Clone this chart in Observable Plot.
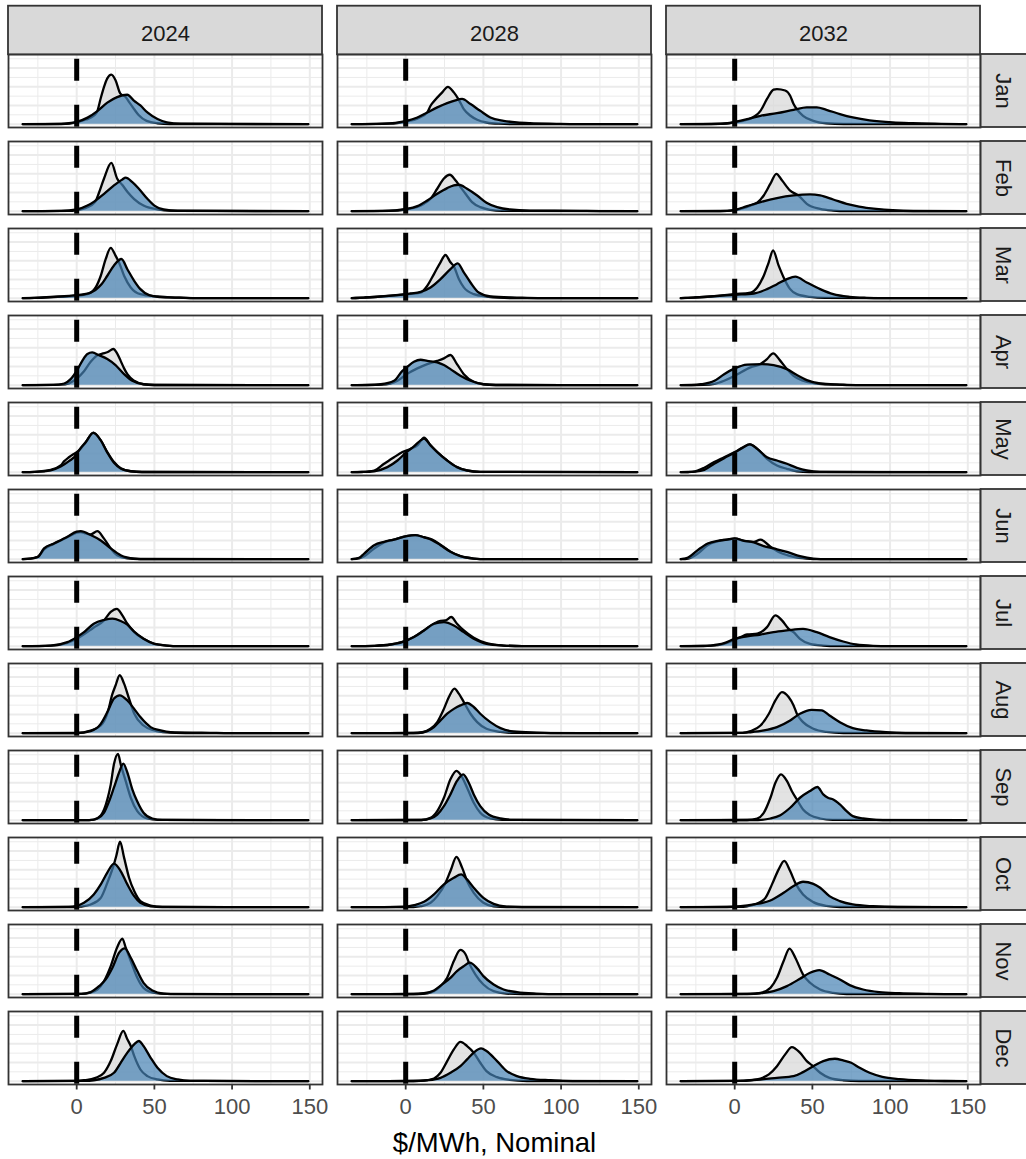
<!DOCTYPE html>
<html>
<head>
<meta charset="utf-8">
<script src="https://cdn.jsdelivr.net/npm/d3@7"></script>
<script src="https://cdn.jsdelivr.net/npm/@observablehq/plot@0.6"></script>
<style>
  html, body { margin: 0; padding: 0; background: #ffffff; }
  #wrap { position: relative; width: 1026px; height: 1159px; overflow: hidden; background: #ffffff; }
  #wrap svg { display: block; }
  #xtitle { position: absolute; left: 7.7px; width: 973.6px; top: 1129px; text-align: center;
            font-family: "Liberation Sans", Arial, sans-serif; font-size: 27.5px; line-height: 27.5px; color: #000; }
</style>
</head>
<body>
<div id="wrap"><div id="chart"></div><div id="xtitle">$/MWh, Nominal</div></div>
<script>
// ---------- data (density values in units of 0.01 per $/MWh) ----------
const years = [2024, 2028, 2032];
const months = ["Jan", "Feb", "Mar", "Apr", "May", "Jun", "Jul", "Aug", "Sep", "Oct", "Nov", "Dec"];
const xRange = [-34.7, 149];
const xMajorTicks = [0, 50, 100, 150];
const xMinorTicks = [-25, 25, 75, 125];
const yMajorTicks = [0, 2, 4, 6];
const yMinorTicks = [1, 3, 5, 7];
const zeroLine = [0];

// grey (first) distribution, one list of [x, density] per month
const grey2024 = [
  [[-10,0.02],[0,0.2],[6,0.5],[11,0.9],[13.3,1.4],[15.5,2.8],[17.6,4.0],[19.7,4.9],[22.3,5.3],[25,4.7],[28,3.3],[31.5,2.9],[34,2.3],[37,1.6],[40,0.95],[45,0.35],[52,0.1],[60,0.02]],
  [[-5,0.03],[0,0.12],[6,0.35],[11.8,0.97],[14.4,2.0],[17.6,3.5],[22.3,5.16],[26,3.5],[29.4,2.8],[33,2.0],[37,1.3],[43,0.6],[52,0.2],[60,0.05]],
  [[-27,0.03],[-16.7,0.1],[0,0.25],[6.9,0.43],[12.2,1.15],[15.5,2.4],[18.7,4.2],[21.9,5.38],[25,4.55],[27.3,3.8],[30.5,2.4],[34.8,1.15],[41,0.43],[52,0.18],[60,0.08],[67,0.06],[75,0.01]],
  [[-10,0.05],[-5,0.2],[0,0.7],[4.7,1.5],[9,2.5],[13.3,3.2],[16.5,3.38],[20,3.55],[23.6,3.87],[26,3.4],[28.3,2.6],[30.5,1.8],[32.6,1.18],[37,0.47],[43,0.1],[50,0.02]],
  [[-27,0.04],[-16.7,0.25],[-10.3,0.72],[-8,1.18],[-5,1.6],[0,2.15],[1.5,2.33],[5.8,3.2],[10.7,4.23],[15.5,3.4],[19.7,2.15],[24,1.08],[28.3,0.43],[34.8,0.1],[42,0.02]],
  [[-30,0.05],[-25,0.25],[-21,1.05],[-14.6,1.65],[-6,2.35],[0,2.85],[2.6,2.9],[6,2.75],[9,2.65],[13.3,3.0],[17.6,2.2],[21.9,1.15],[26,0.43],[32.6,0.1],[40,0.02]],
  [[-16.7,0.05],[-6,0.35],[0,0.79],[11,2.0],[17.6,2.76],[21.9,3.66],[25.8,4.0],[29.4,3.3],[32.6,2.4],[37,1.5],[43,0.79],[50,0.25],[58,0.07],[66,0.01]],
  [[0,0.02],[9,0.29],[15.5,0.82],[19.7,2.1],[23,4.2],[25,5.1],[27.7,6.2],[30.5,5.3],[33.7,3.7],[37,2.1],[43,0.82],[50,0.29],[58,0.08],[70,0.01]],
  [[5,0.01],[11,0.07],[15.5,0.5],[19.7,2.2],[21.9,3.8],[24,6.0],[26.6,7.1],[28.3,6.0],[31.5,4.2],[34.8,2.4],[39,0.97],[45.5,0.18],[52,0.03]],
  [[0,0.02],[2.6,0.07],[9,0.29],[15.5,1.0],[19.7,2.6],[24,4.6],[25.5,5.5],[27.9,7.0],[30.5,5.3],[33.7,3.15],[37,1.72],[41,0.65],[47.6,0.18],[55,0.03]],
  [[3,0.03],[8,0.14],[13.3,0.5],[17.6,1.4],[21.9,3.0],[26,5.0],[29.4,5.95],[31.5,5.0],[34.8,3.55],[39,1.75],[43,0.68],[50,0.14],[58,0.03]],
  [[0,0.03],[4.7,0.1],[12.2,0.36],[17.6,0.9],[21.9,2.15],[26,3.94],[30,5.38],[32.6,4.48],[34.8,3.76],[37,2.7],[41,1.25],[45.5,0.54],[52,0.18],[60,0.04]]
];
const grey2028 = [
  [[-10,0.05],[0.6,0.3],[7.5,0.6],[13.9,1.25],[16,1.97],[18.2,2.45],[23.5,3.4],[27.1,4.0],[31,3.4],[34.2,2.6],[37.4,1.6],[41.7,0.9],[46,0.47],[52,0.18],[60,0.05],[70,0.01]],
  [[-10,0.03],[0.6,0.2],[7.5,0.45],[11.8,0.8],[16,1.33],[20.3,2.4],[24.6,3.5],[28.4,3.9],[32,3.3],[34.2,2.83],[38.5,1.86],[42.7,0.97],[48,0.43],[54.5,0.14],[62,0.03]],
  [[-26.7,0.07],[-16,0.18],[0.6,0.43],[9.6,0.6],[13.9,1.33],[18.2,2.58],[22.4,3.84],[25.6,4.62],[28.8,3.84],[31,3.4],[34.2,2.04],[37.4,1.15],[43.8,0.43],[52,0.18],[60,0.05],[70,0.01]],
  [[-15,0.05],[-5.3,0.47],[0.6,1.18],[7.5,1.8],[13.9,2.26],[20.3,2.6],[24.6,2.87],[28.8,3.23],[33,2.26],[37.4,1.18],[43.8,0.36],[50,0.1],[58,0.02]],
  [[-28,0.03],[-20.3,0.18],[-13.9,0.9],[-7.5,1.6],[-2.1,2.15],[3.2,2.5],[7.5,2.87],[11.8,3.7],[16,2.87],[20.3,2.15],[26.7,1.25],[33,0.54],[39.5,0.18],[48,0.04]],
  [[-30,0.08],[-26.7,0.32],[-20.3,1.15],[-13.9,1.8],[-7.5,2.1],[0.6,2.47],[5.5,2.58],[11.8,2.35],[17,2.1],[22.4,1.55],[28.8,0.8],[35.2,0.32],[43.8,0.07],[52,0.01]],
  [[-20,0.04],[-9.6,0.18],[0.6,0.6],[5.3,0.97],[11.8,1.68],[18.2,2.4],[22.4,2.7],[25.6,2.75],[29.3,3.12],[33,2.4],[37.4,1.68],[43.8,0.9],[52,0.32],[63,0.07],[75,0.01]],
  [[5,0.02],[10.7,0.1],[16,0.47],[20.3,1.18],[24.6,2.6],[27.8,3.87],[31.4,4.77],[34.2,4.23],[37.4,3.33],[41.7,2.08],[46,1.18],[52,0.47],[61,0.14],[70,0.03]],
  [[10,0.02],[16,0.25],[20.3,0.97],[24.6,2.4],[28.8,4.37],[32.7,5.27],[35.2,4.9],[39.5,3.48],[43.8,1.86],[48,0.79],[54.5,0.18],[62,0.03]],
  [[5,0.02],[9.6,0.1],[16,0.47],[20.3,1.18],[25.6,2.6],[28.8,3.87],[32.7,5.38],[36.3,4.23],[39.5,2.8],[43.8,1.54],[50,0.47],[56.6,0.1],[65,0.02]],
  [[8,0.02],[13.9,0.1],[18.2,0.32],[22.4,0.86],[26.7,1.75],[31,3.55],[35.2,4.73],[38.5,4.27],[40.6,3.4],[44.9,2.1],[50,1.04],[56.6,0.32],[65,0.07],[75,0.01]],
  [[5,0.02],[11.8,0.07],[18.2,0.29],[22.4,0.9],[26.7,2.15],[31,3.4],[35.2,4.2],[39.5,3.76],[43.8,3.05],[48,1.97],[52,1.08],[58.8,0.43],[67,0.14],[78,0.02]]
];
const grey2032 = [
  [[-10,0.03],[0,0.2],[8,0.47],[13.4,0.9],[16.6,1.43],[20.8,2.7],[25,3.7],[27.2,3.76],[32.5,3.6],[35.7,3.05],[37.9,2.15],[40,1.6],[44,0.9],[50.6,0.36],[59,0.1],[70,0.02]],
  [[-10,0.02],[0,0.12],[10.2,0.6],[14.5,0.9],[18.7,1.68],[23,2.94],[26.8,4.0],[30.4,3.3],[35.7,2.2],[41,1.68],[46.4,0.79],[55,0.25],[63.4,0.07],[72,0.01]],
  [[-26,0.07],[-15.3,0.18],[0,0.43],[10.2,0.6],[14.5,1.15],[18.7,2.4],[21.9,3.84],[24.7,5.1],[28.3,3.48],[31.5,2.22],[35.7,0.97],[40,0.43],[48.5,0.14],[58,0.03]],
  [[-20,0.03],[-13,0.14],[-6.8,0.47],[0,1.0],[3.8,1.36],[10.2,1.9],[16.6,2.26],[20.8,2.8],[24.7,3.4],[29.4,2.6],[33.6,1.72],[37.9,1.0],[44,0.47],[52.8,0.18],[63.4,0.07],[72,0.01]],
  [[-30,0.02],[-26,0.07],[-19.6,0.47],[-13.2,1.08],[-6.8,1.6],[0,2.15],[4.9,2.6],[9.8,2.97],[14.5,2.5],[20.8,1.43],[27.2,0.72],[33.6,0.36],[40,0.1],[48,0.02]],
  [[-30,0.07],[-23.8,0.6],[-17.4,1.5],[-11,1.9],[-4.7,2.1],[0,2.2],[6,1.97],[12.3,1.85],[16.6,2.1],[23,1.33],[29.4,0.68],[37.9,0.25],[46.4,0.07],[55,0.01]],
  [[-15.3,0.05],[-6.8,0.25],[0,0.68],[3.8,0.97],[8,1.25],[14.5,1.33],[20.8,2.04],[26.2,3.3],[30.4,2.76],[34.7,1.86],[37.9,1.5],[42,0.79],[48.5,0.25],[57,0.07],[66,0.01]],
  [[5,0.03],[10.2,0.22],[16.6,0.82],[22,2.08],[26.2,3.5],[30.4,4.4],[34.7,3.87],[37.9,2.97],[40,2.08],[44,1.18],[50.6,0.47],[59,0.14],[70,0.02]],
  [[8,0.02],[14.5,0.18],[18.7,0.79],[23,2.4],[26.2,4.0],[29.8,4.9],[33.6,4.2],[36.8,3.1],[40,2.22],[44,1.15],[48.5,0.54],[55,0.18],[63,0.03]],
  [[3,0.03],[8,0.1],[15.5,0.47],[19.8,1.0],[24,2.44],[28.3,4.05],[31.9,4.95],[35.7,3.87],[39,2.6],[44,1.36],[50.6,0.54],[59,0.14],[68,0.02]],
  [[10,0.03],[16.6,0.14],[23,0.68],[27.2,1.75],[31.5,3.55],[35.3,4.87],[39,3.9],[44,2.1],[48.5,1.22],[55,0.5],[63.4,0.14],[72,0.02]],
  [[5,0.03],[10.2,0.1],[16.6,0.29],[22,0.72],[27.2,1.6],[32.5,2.87],[36.8,3.65],[42,3.05],[46.4,2.15],[49.6,1.72],[55,0.9],[61,0.36],[69.8,0.1],[80,0.02]]
];

// blue (second) distribution
const blue2024 = [
  [[-10,0.03],[-5,0.1],[0,0.25],[7,0.7],[13.3,1.4],[19.7,2.3],[26,2.9],[32.5,3.15],[37,2.5],[41,2.0],[45.5,1.25],[52,0.55],[58,0.2],[67,0.05]],
  [[-10,0.03],[0,0.18],[6.9,0.6],[11,1.0],[17.6,1.86],[24,2.76],[29.4,3.4],[31.5,3.58],[35.8,3.1],[40,2.4],[45.5,1.33],[50,0.6],[56,0.18],[65,0.04]],
  [[-27,0.04],[-16.7,0.14],[0,0.32],[9,0.6],[15.5,1.4],[19.7,2.4],[24,3.5],[28.8,4.19],[32.6,3.1],[37,1.86],[41,0.97],[46.6,0.32],[52,0.14],[62.7,0.07],[75,0.01]],
  [[-15,0.03],[-8,0.18],[-3.9,0.65],[0,1.54],[3.6,2.6],[6.9,3.33],[10,3.5],[14.4,3.2],[19.7,2.8],[25,2.15],[30.5,1.18],[35.8,0.47],[43,0.1],[50,0.02]],
  [[-27,0.03],[-16.7,0.2],[-10.3,0.6],[-5,1.18],[0,1.9],[1.5,2.33],[5.8,3.2],[10.7,4.2],[15.5,3.4],[19.7,2.1],[24,1.0],[28.3,0.4],[34.8,0.1],[42,0.02]],
  [[-30,0.05],[-25,0.25],[-21,1.15],[-14.6,1.68],[-6,2.4],[0,2.94],[2.6,3.0],[9,2.58],[15.5,2.0],[21.9,1.15],[28.3,0.43],[37,0.07],[45,0.01]],
  [[-16.7,0.07],[-6,0.43],[0,0.97],[4.7,1.5],[11,2.4],[17.6,2.8],[23,2.95],[28.3,2.7],[32.6,2.3],[37,1.55],[43,0.79],[50,0.25],[58,0.07],[66,0.01]],
  [[0,0.01],[9,0.22],[15.5,1.0],[19.7,2.26],[24,3.7],[27.7,4.05],[32.6,3.5],[37,2.6],[41,1.72],[47.6,0.65],[54,0.29],[60.5,0.1],[75,0.05],[86,0.04],[95,0.01]],
  [[8,0.01],[13.3,0.18],[17.6,0.8],[20.8,2.0],[24,3.5],[27.3,5.1],[30,6.05],[32.6,5.1],[35.8,3.3],[39,2.0],[43,0.8],[48.7,0.18],[55,0.03]],
  [[-5,0.03],[0,0.14],[4.7,0.47],[11,1.36],[15.5,2.44],[19.7,3.7],[24,4.66],[28.3,3.87],[32.6,2.44],[37,1.18],[41,0.47],[47.6,0.1],[55,0.02]],
  [[3,0.03],[9,0.22],[14.4,0.86],[18.7,1.58],[23,2.83],[27.3,4.44],[30.9,4.9],[34.8,3.9],[39,2.47],[43,1.22],[48.7,0.39],[56,0.07],[65,0.01]],
  [[5,0.03],[11,0.1],[17.6,0.36],[24,0.9],[28.3,1.97],[32.6,3.05],[37,3.94],[40,4.3],[43,3.76],[47.6,2.5],[52,1.43],[58,0.54],[65,0.18],[73,0.04]]
];
const blue2028 = [
  [[-15,0.05],[0.6,0.36],[7.5,0.72],[13.9,1.25],[20.3,1.8],[26.7,2.26],[31,2.5],[36.3,2.7],[41.7,2.15],[48,1.43],[54.5,0.72],[63,0.36],[71.6,0.18],[80,0.1],[97,0.04],[110,0.01]],
  [[-15,0.03],[0.6,0.25],[7.5,0.54],[13.9,1.15],[20.3,1.86],[26.7,2.47],[31,2.76],[34.2,2.83],[39.5,2.4],[46,1.68],[52,0.9],[58.8,0.43],[67,0.18],[80,0.07],[112,0.04],[125,0.01]],
  [[-26.7,0.07],[-16,0.18],[0.6,0.43],[3.2,0.5],[9.6,0.68],[16,1.15],[22.4,2.04],[28.8,3.1],[33.5,3.73],[37.4,2.76],[41.7,1.68],[47,0.6],[54.5,0.18],[71.6,0.07],[85,0.01]],
  [[-25,0.02],[-16,0.1],[-7.5,0.47],[-2.1,1.54],[0.6,1.9],[5.3,2.5],[9.6,2.72],[13.9,2.6],[20.3,2.44],[24.6,2.15],[28.8,1.72],[35.2,1.0],[41.7,0.47],[50,0.1],[58,0.02]],
  [[-28,0.02],[-20.3,0.1],[-11.8,0.54],[-5.3,1.25],[0.6,2.15],[5.3,2.76],[9.6,3.4],[11.8,3.6],[16,2.87],[20.3,2.15],[26.7,1.25],[33,0.54],[39.5,0.18],[48,0.04]],
  [[-30,0.15],[-26.7,0.6],[-20.3,1.5],[-13.9,1.86],[-7.5,2.1],[0.6,2.47],[6.4,2.58],[11.8,2.33],[17,2.04],[22.4,1.5],[28.8,0.79],[35.2,0.32],[43.8,0.07],[52,0.01]],
  [[-20,0.04],[-9.6,0.18],[0.6,0.6],[5.3,0.97],[11.8,1.68],[18.2,2.4],[24.6,2.58],[31,2.22],[37.4,1.5],[43.8,0.79],[52,0.25],[63,0.07],[75,0.01]],
  [[8,0.02],[13.9,0.22],[18.2,0.65],[22.4,1.36],[26.7,2.08],[31,2.6],[35.2,2.97],[39.5,3.23],[43.8,2.8],[48,2.08],[54.5,1.18],[61,0.54],[69.4,0.18],[84.4,0.07],[100,0.01]],
  [[10,0.02],[16,0.18],[20.3,0.6],[24.6,1.5],[28.8,2.76],[33,4.2],[37,4.9],[40.6,4.0],[43.8,2.76],[48,1.5],[53.4,0.6],[61,0.18],[69.4,0.04]],
  [[0.6,0.07],[5.3,0.22],[11.8,0.57],[18.2,1.36],[24.6,2.44],[31,3.15],[35.7,3.5],[39.5,2.97],[43.8,2.08],[50,1.0],[56.6,0.36],[65,0.07],[75,0.01]],
  [[5,0.02],[11.8,0.1],[18.2,0.39],[23.5,1.04],[28.8,1.75],[33,2.47],[37.4,3.0],[41.2,3.37],[46,2.76],[50,1.93],[56.6,1.04],[63,0.5],[71.6,0.22],[84,0.07],[100,0.01]],
  [[5,0.02],[13.9,0.1],[22.4,0.36],[28.8,0.9],[35.2,1.61],[39.5,2.33],[43.8,3.05],[48.5,3.5],[52,3.23],[58.8,2.15],[65,1.08],[71.6,0.54],[80,0.25],[93,0.1],[101,0.04],[115,0.01]]
];
const blue2032 = [
  [[-15,0.02],[-4.7,0.1],[0,0.25],[8,0.54],[16.6,0.9],[27.2,1.18],[37.9,1.54],[46.4,1.8],[52.8,1.8],[59,1.54],[67.7,1.08],[76,0.72],[86.8,0.4],[101.7,0.18],[114.5,0.1],[133,0.04],[145,0.01]],
  [[-15,0.01],[-4.7,0.04],[0,0.14],[8,0.54],[16.6,0.97],[27.2,1.4],[37.9,1.68],[48.5,1.79],[55,1.68],[63.4,1.25],[72,0.79],[80,0.5],[91,0.25],[101.7,0.1],[115,0.02]],
  [[-30,0.04],[-15.3,0.18],[0,0.36],[12.3,0.5],[20.8,0.97],[27.2,1.5],[33.6,2.04],[39,2.3],[46.4,1.68],[55,0.97],[63.4,0.43],[74,0.14],[84.7,0.04],[95,0.01]],
  [[-28,0.02],[-21.7,0.1],[-13,0.47],[-6.8,1.18],[0,1.8],[8,2.2],[17.7,2.26],[25,2.15],[33.6,1.72],[40,1.08],[46.4,0.54],[55,0.18],[67.7,0.07],[78,0.01]],
  [[-30,0.01],[-26,0.05],[-19.6,0.25],[-13.2,0.9],[-6.8,1.5],[0,2.1],[4.9,2.6],[9.8,2.97],[14.5,2.5],[20.8,1.6],[27.2,1.25],[33.6,0.9],[40,0.47],[46.4,0.18],[55,0.03]],
  [[-30,0.18],[-23.8,0.97],[-17.4,1.68],[-11,1.97],[-4.7,2.1],[0,2.22],[6,1.97],[12.3,1.79],[18.7,1.4],[25,1.15],[33.6,0.79],[42,0.32],[50.6,0.07],[60,0.01]],
  [[-20,0.02],[-15.3,0.07],[-6.8,0.32],[0,0.79],[8,1.04],[16.6,1.25],[25,1.5],[33.6,1.68],[44,1.86],[52.8,1.5],[61,0.97],[69.8,0.5],[78,0.18],[89,0.04],[100,0.01]],
  [[5,0.03],[10.2,0.1],[18.7,0.29],[27.2,0.65],[35.7,1.36],[42,2.08],[49.6,2.5],[56,2.45],[61,1.9],[67.7,1.18],[76,0.54],[84.7,0.29],[97.4,0.1],[110,0.02]],
  [[15,0.02],[23,0.18],[29.4,0.54],[35.7,1.33],[42,2.4],[48.5,3.12],[53.2,3.55],[57,2.76],[60,2.4],[63.4,2.22],[67.7,1.68],[72,0.97],[76,0.43],[82.6,0.18],[91,0.04],[100,0.01]],
  [[-5,0.02],[3.8,0.1],[12.3,0.29],[23,0.72],[31.5,1.54],[37.9,2.26],[44,2.72],[50.6,2.5],[55,2.08],[61,1.18],[67.7,0.65],[76,0.29],[89,0.1],[105,0.02]],
  [[8,0.02],[16.6,0.1],[25,0.32],[33.6,0.86],[42,1.65],[48.5,2.3],[54.5,2.58],[61,2.1],[67.7,1.58],[74,0.97],[82.6,0.5],[93,0.22],[106,0.1],[123,0.04],[135,0.01]],
  [[0,0.03],[6,0.07],[16.6,0.18],[27.2,0.36],[37.9,0.54],[44,0.97],[50.6,1.6],[57,2.15],[64.5,2.4],[69.8,2.22],[75,1.97],[80.4,1.43],[86.8,0.9],[95,0.47],[106,0.22],[123,0.07],[135,0.02]]
];

// ---------- build table ----------
const curveSets = [
  [2024, "grey", grey2024], [2028, "grey", grey2028], [2032, "grey", grey2032],
  [2024, "blue", blue2024], [2028, "blue", blue2028], [2032, "blue", blue2032]
];
const rows = [];
for (const [year, series, curves] of curveSets) {
  curves.forEach((pts, i) => {
    const full = [[xRange[0], 0], ...pts, [xRange[1], 0]];
    for (const [x, y] of full) rows.push({year, month: months[i], series, x, y});
  });
}
const greyRows = rows.filter(d => d.series === "grey");
const blueRows = rows.filter(d => d.series === "blue");

// ---------- layout ----------
const W = 1026, SVG_H = 1120;
const mL = 7.7, mR = 44.7, mT = 53.3, mB = SVG_H - 1085.2;
const fxPad = 0.0452, fyPad = 0.1663;
const panelW = (W - mL - mR) / (3 - fxPad) * (1 - fxPad);
const panelH = (SVG_H - mT - mB) / (12 - fyPad) * (1 - fyPad);
const strip = 48.3;
const xSpan = xRange[1] - xRange[0];
const yMax = d3.max(rows, d => d.y);
const font = "'Liberation Sans', Arial, Helvetica, sans-serif";
const curve = "monotone-x";
const lw = 2.3;

const chart = Plot.plot({
  width: W, height: SVG_H,
  marginLeft: mL, marginRight: mR, marginTop: mT, marginBottom: mB,
  style: {fontFamily: font, background: "#ffffff", overflow: "visible"},
  x: {domain: [xRange[0] - 0.05 * xSpan, xRange[1] + 0.05 * xSpan]},
  y: {domain: [-0.05 * yMax, 1.05 * yMax], axis: null},
  fx: {domain: years, paddingInner: fxPad, paddingOuter: 0, axis: null},
  fy: {domain: months, paddingInner: fyPad, paddingOuter: 0, axis: null},
  marks: [
    // grid
    Plot.ruleX(xMinorTicks, {stroke: "#EBEBEB", strokeWidth: 1}),
    Plot.ruleY(yMinorTicks, {stroke: "#EBEBEB", strokeWidth: 1}),
    Plot.ruleX(xMajorTicks, {stroke: "#EBEBEB", strokeWidth: 2}),
    Plot.ruleY(yMajorTicks, {stroke: "#EBEBEB", strokeWidth: 2}),
    // grey density
    Plot.areaY(greyRows, {x: "x", y: "y", fx: "year", fy: "month", fill: "#D9D9D9", fillOpacity: 0.75, curve}),
    Plot.lineY(greyRows, {x: "x", y: "y", fx: "year", fy: "month", stroke: "#000000", strokeWidth: lw, curve}),
    // blue density
    Plot.areaY(blueRows, {x: "x", y: "y", fx: "year", fy: "month", fill: "steelblue", fillOpacity: 0.7, curve}),
    Plot.lineY(blueRows, {x: "x", y: "y", fx: "year", fy: "month", stroke: "#000000", strokeWidth: lw, curve}),
    // dashed zero line
    Plot.ruleX(zeroLine, {stroke: "#000000", strokeWidth: 5, strokeDasharray: "22,24", strokeDashoffset: 41.3}),
    // panel border
    Plot.frame({stroke: "#333333", strokeWidth: 1.8}),
    // top strips
    Plot.rect(years, {fx: d => d, fy: () => months[0], fill: "#D9D9D9", stroke: "#333333", strokeWidth: 1.8,
                      insetTop: -strip, insetBottom: panelH}),
    Plot.text(years, {fx: d => d, fy: () => months[0], text: d => String(d), frameAnchor: "top", lineAnchor: "middle",
                      dy: -20.5, fontSize: 22, fill: "#1A1A1A"}),
    // right strips
    Plot.rect(months, {fx: () => years[2], fy: d => d, fill: "#D9D9D9", stroke: "#333333", strokeWidth: 1.8,
                       insetLeft: panelW, insetRight: -strip}),
    Plot.text(months, {fx: () => years[2], fy: d => d, text: d => d, frameAnchor: "right", lineAnchor: "middle",
                       textAnchor: "middle", rotate: 90, dx: 23, fontSize: 22, fill: "#1A1A1A"}),
    // x axis
    Plot.axisX(xMajorTicks, {anchor: "bottom", label: null, tickSize: 5.5, tickPadding: 8, fontSize: 22,
                             stroke: "#333333", strokeWidth: 1.8, fill: "#4D4D4D"})
  ]
});
document.getElementById("chart").appendChild(chart);
</script>
</body>
</html>
